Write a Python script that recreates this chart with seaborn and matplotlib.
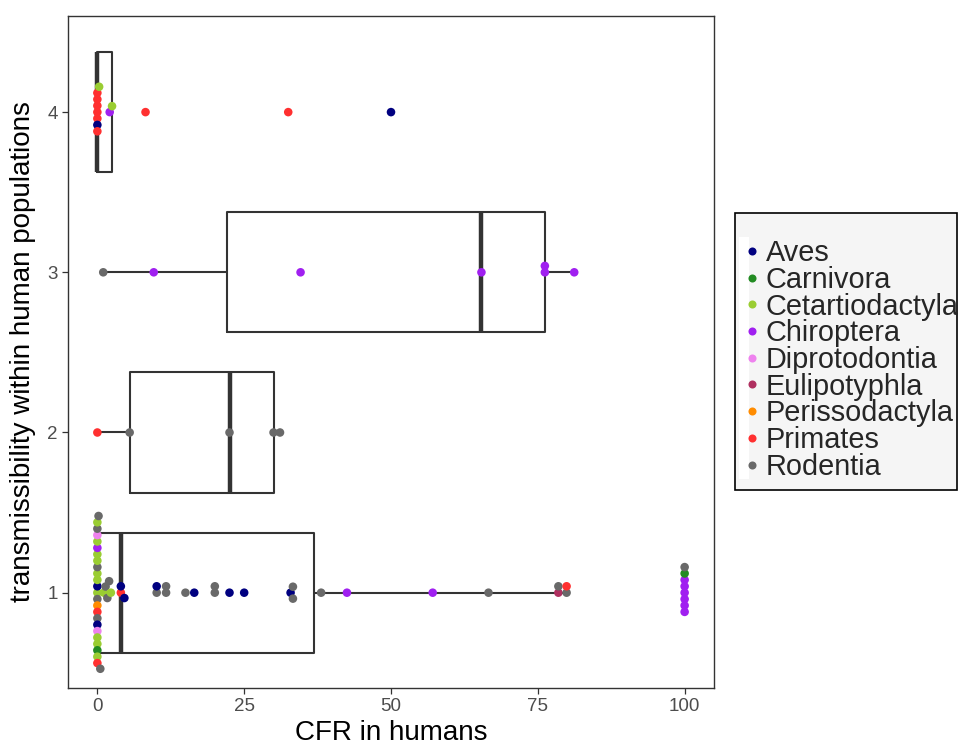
import numpy as np
import pandas as pd
import matplotlib
matplotlib.use("Agg")
import matplotlib.pyplot as plt
from matplotlib.lines import Line2D
from matplotlib.patches import Rectangle
from matplotlib.legend_handler import HandlerTuple
import seaborn as sns

# ---------------- data ----------------
ORDERS = ["Aves", "Carnivora", "Cetartiodactyla", "Chiroptera", "Diprotodontia",
          "Eulipotyphla", "Perissodactyla", "Primates", "Rodentia"]
COLORS = ["#000080", "#228B22", "#9ACD32", "#A020F0", "#EE82EE",
          "#B03060", "#FF8C00", "#FF3030", "#696969"]
CODES = {"Av": "Aves", "Ca": "Carnivora", "Ce": "Cetartiodactyla", "Ch": "Chiroptera",
         "Di": "Diprotodontia", "Eu": "Eulipotyphla", "Pe": "Perissodactyla",
         "Pr": "Primates", "Ro": "Rodentia"}

# transmissibility level 1
t1_cfr = [0, 0, 0, 0, 0, 0, 0, 0, 0, 0, 0, 0, 0, 0, 0, 0, 0, 0, 0, 0, 0, 0, 0,
          0.2, 0.5, 1.1, 1.4, 1.7, 2.0, 2.3,
          4.0, 4.0, 4.6,
          10.1, 10.1, 11.7, 11.7, 15.0, 16.5, 20.0, 20.0, 22.5, 25.0, 32.9, 33.3, 33.3,
          38.1, 42.5, 57.1, 66.6, 78.5, 78.5, 79.9, 79.9,
          100, 100, 100, 100, 100, 100, 100, 100]
t1_order = ["Ce", "Av", "Ro", "Ce", "Pe", "Ce", "Pr", "Ro", "Ro", "Ce", "Av", "Ce",
            "Di", "Ch", "Ce", "Ce", "Ce", "Di", "Ca", "Ro", "Ce", "Ce", "Pr",
            "Ro", "Ro", "Ce", "Ro", "Ro", "Ro", "Ce",
            "Pr", "Av", "Av",
            "Ro", "Av", "Ro", "Ro", "Ro", "Av", "Ro", "Ro", "Av", "Av", "Av", "Ro", "Ro",
            "Ro", "Ch", "Ch", "Ro", "Eu", "Ro", "Ro", "Pr",
            "Ch", "Ch", "Ch", "Ch", "Ch", "Ca", "Ch", "Ro"]

# transmissibility level 2
t2_cfr = [0, 5.5, 22.5, 30.0, 31.1]
t2_order = ["Pr", "Ro", "Ro", "Ro", "Ro"]

# transmissibility level 3
t3_cfr = [1.0, 9.6, 34.6, 65.4, 76.2, 76.2, 81.2]
t3_order = ["Ro", "Ch", "Ch", "Ch", "Ch", "Ch", "Ch"]

# transmissibility level 4
t4_cfr = [0, 0, 0, 0, 0, 0, 0, 0.3, 2.1, 2.5, 8.2, 32.5, 50.0]
t4_order = ["Pr", "Pr", "Pr", "Pr", "Av", "Pr", "Pr", "Ce", "Ch", "Ce", "Pr", "Pr", "Av"]

X_TICKS = [0, 25, 50, 75, 100]
Y_TICKS = [1, 2, 3, 4]

# ---------------- layout ----------------
FIG_W, FIG_H, DPI = 958, 749, 100
AX_L, AX_R, AX_T, AX_B = 68, 714, 16, 688          # pixels
XLIM = (-5, 105)
YLIM = (0.405, 4.6)
PT_DIAM_PX = 6.4                                    # swarm spacing (pixels)
LEG_L, LEG_R, LEG_T, LEG_B = 735, 957, 213, 490    # legend box (pixels)

rows = []
for lvl, cfr, codes in [(1, t1_cfr, t1_order), (2, t2_cfr, t2_order),
                        (3, t3_cfr, t3_order), (4, t4_cfr, t4_order)]:
    for c, o in zip(cfr, codes):
        rows.append({"cfr": c, "trans": lvl, "order": CODES[o]})
df = pd.DataFrame(rows)

px_per_x = (AX_R - AX_L) / (XLIM[1] - XLIM[0])
px_per_y = (AX_B - AX_T) / (YLIM[1] - YLIM[0])


def swarm_offsets(x_px, d):
    """Beeswarm placement (in pixel space) along the vertical direction."""
    n = len(x_px)
    order = np.argsort(x_px, kind="stable")
    px_list, py_list = [], []
    off = np.zeros(n)
    for i in order:
        x = x_px[i]
        cands = [0.0]
        for px, py in zip(px_list, py_list):
            dx = abs(x - px)
            if dx < d:
                dy = np.sqrt(d * d - dx * dx)
                cands.extend([py + dy, py - dy])
        cands = sorted(set(np.round(cands, 6)), key=lambda c: (abs(c), -c))
        for c in cands:
            if all((x - px) ** 2 + (c - py) ** 2 >= d * d - 1e-4
                   for px, py in zip(px_list, py_list)):
                off[i] = c
                break
        px_list.append(x)
        py_list.append(off[i])
    return off


df["ypos"] = df["trans"].astype(float)
for lvl, sub in df.groupby("trans"):
    offs = swarm_offsets(sub["cfr"].to_numpy() * px_per_x, PT_DIAM_PX)
    df.loc[sub.index, "ypos"] = lvl + offs / px_per_y

# ---------------- plot ----------------
sns.set_style("white")
plt.rcParams["font.family"] = ["Liberation Sans", "DejaVu Sans"]

fig = plt.figure(figsize=(FIG_W / DPI, FIG_H / DPI), dpi=DPI)
ax = fig.add_axes([AX_L / FIG_W, 1 - AX_B / FIG_H,
                   (AX_R - AX_L) / FIG_W, (AX_B - AX_T) / FIG_H])

line_col = "#333333"
sns.boxplot(data=df, x="cfr", y="trans", orient="h", native_scale=True,
            width=0.75, fill=False, color=line_col, linewidth=1.5,
            showfliers=False, showcaps=False, whis=1.5,
            medianprops=dict(linewidth=3.2, color=line_col),
            ax=ax, zorder=2)

sns.scatterplot(data=df, x="cfr", y="ypos", hue="order", hue_order=ORDERS,
                palette=COLORS, s=38, linewidth=0, legend=False, ax=ax, zorder=3)

ax.set_xlim(*XLIM)
ax.set_ylim(*YLIM)
ax.set_xticks(X_TICKS)
ax.set_yticks(Y_TICKS)
ax.set_xticklabels([str(t) for t in X_TICKS])
ax.set_yticklabels([str(t) for t in Y_TICKS])
ax.tick_params(axis="both", direction="out", length=4, width=0.9,
               color=line_col, labelsize=13.5, labelcolor="#4D4D4D", pad=3.5,
               bottom=True, left=True)
for sp in ax.spines.values():
    sp.set_visible(True)
    sp.set_color(line_col)
    sp.set_linewidth(1.0)
ax.grid(False)
ax.set_xlabel("CFR in humans", fontsize=20, color="black", labelpad=3)
ax.set_ylabel("transmissibility within human populations", fontsize=20,
              color="black", labelpad=8)

# legend background box
fig.patches.append(Rectangle((LEG_L / FIG_W, 1 - LEG_B / FIG_H),
                             (LEG_R - LEG_L) / FIG_W, (LEG_B - LEG_T) / FIG_H,
                             transform=fig.transFigure, facecolor="#F5F5F5",
                             edgecolor="black", linewidth=1.2, zorder=0))

# legend with white key background strips
key_bg = [(-0.19, -0.5), (0.19, -0.5), (0.19, 0.5), (-0.19, 0.5), (-0.19, -0.5)]
handles = []
for col in COLORS:
    bg = Line2D([], [], marker=key_bg, color="white", markersize=20,
                linestyle="", markeredgewidth=0)
    dot = Line2D([], [], marker="o", color=col, markersize=5.8,
                 linestyle="", markeredgewidth=0)
    handles.append((bg, dot))
leg = fig.legend(handles, ORDERS, loc="upper left",
                 bbox_to_anchor=(LEG_L / FIG_W, 1 - LEG_T / FIG_H),
                 bbox_transform=fig.transFigure, borderaxespad=0,
                 handler_map={tuple: HandlerTuple(ndivide=None)},
                 fontsize=20.8, title=" ", title_fontsize=13.5,
                 labelspacing=-0.045, handlelength=0.2, handletextpad=0.5,
                 borderpad=0.36, frameon=False)

fig.savefig("out.png", dpi=DPI)
